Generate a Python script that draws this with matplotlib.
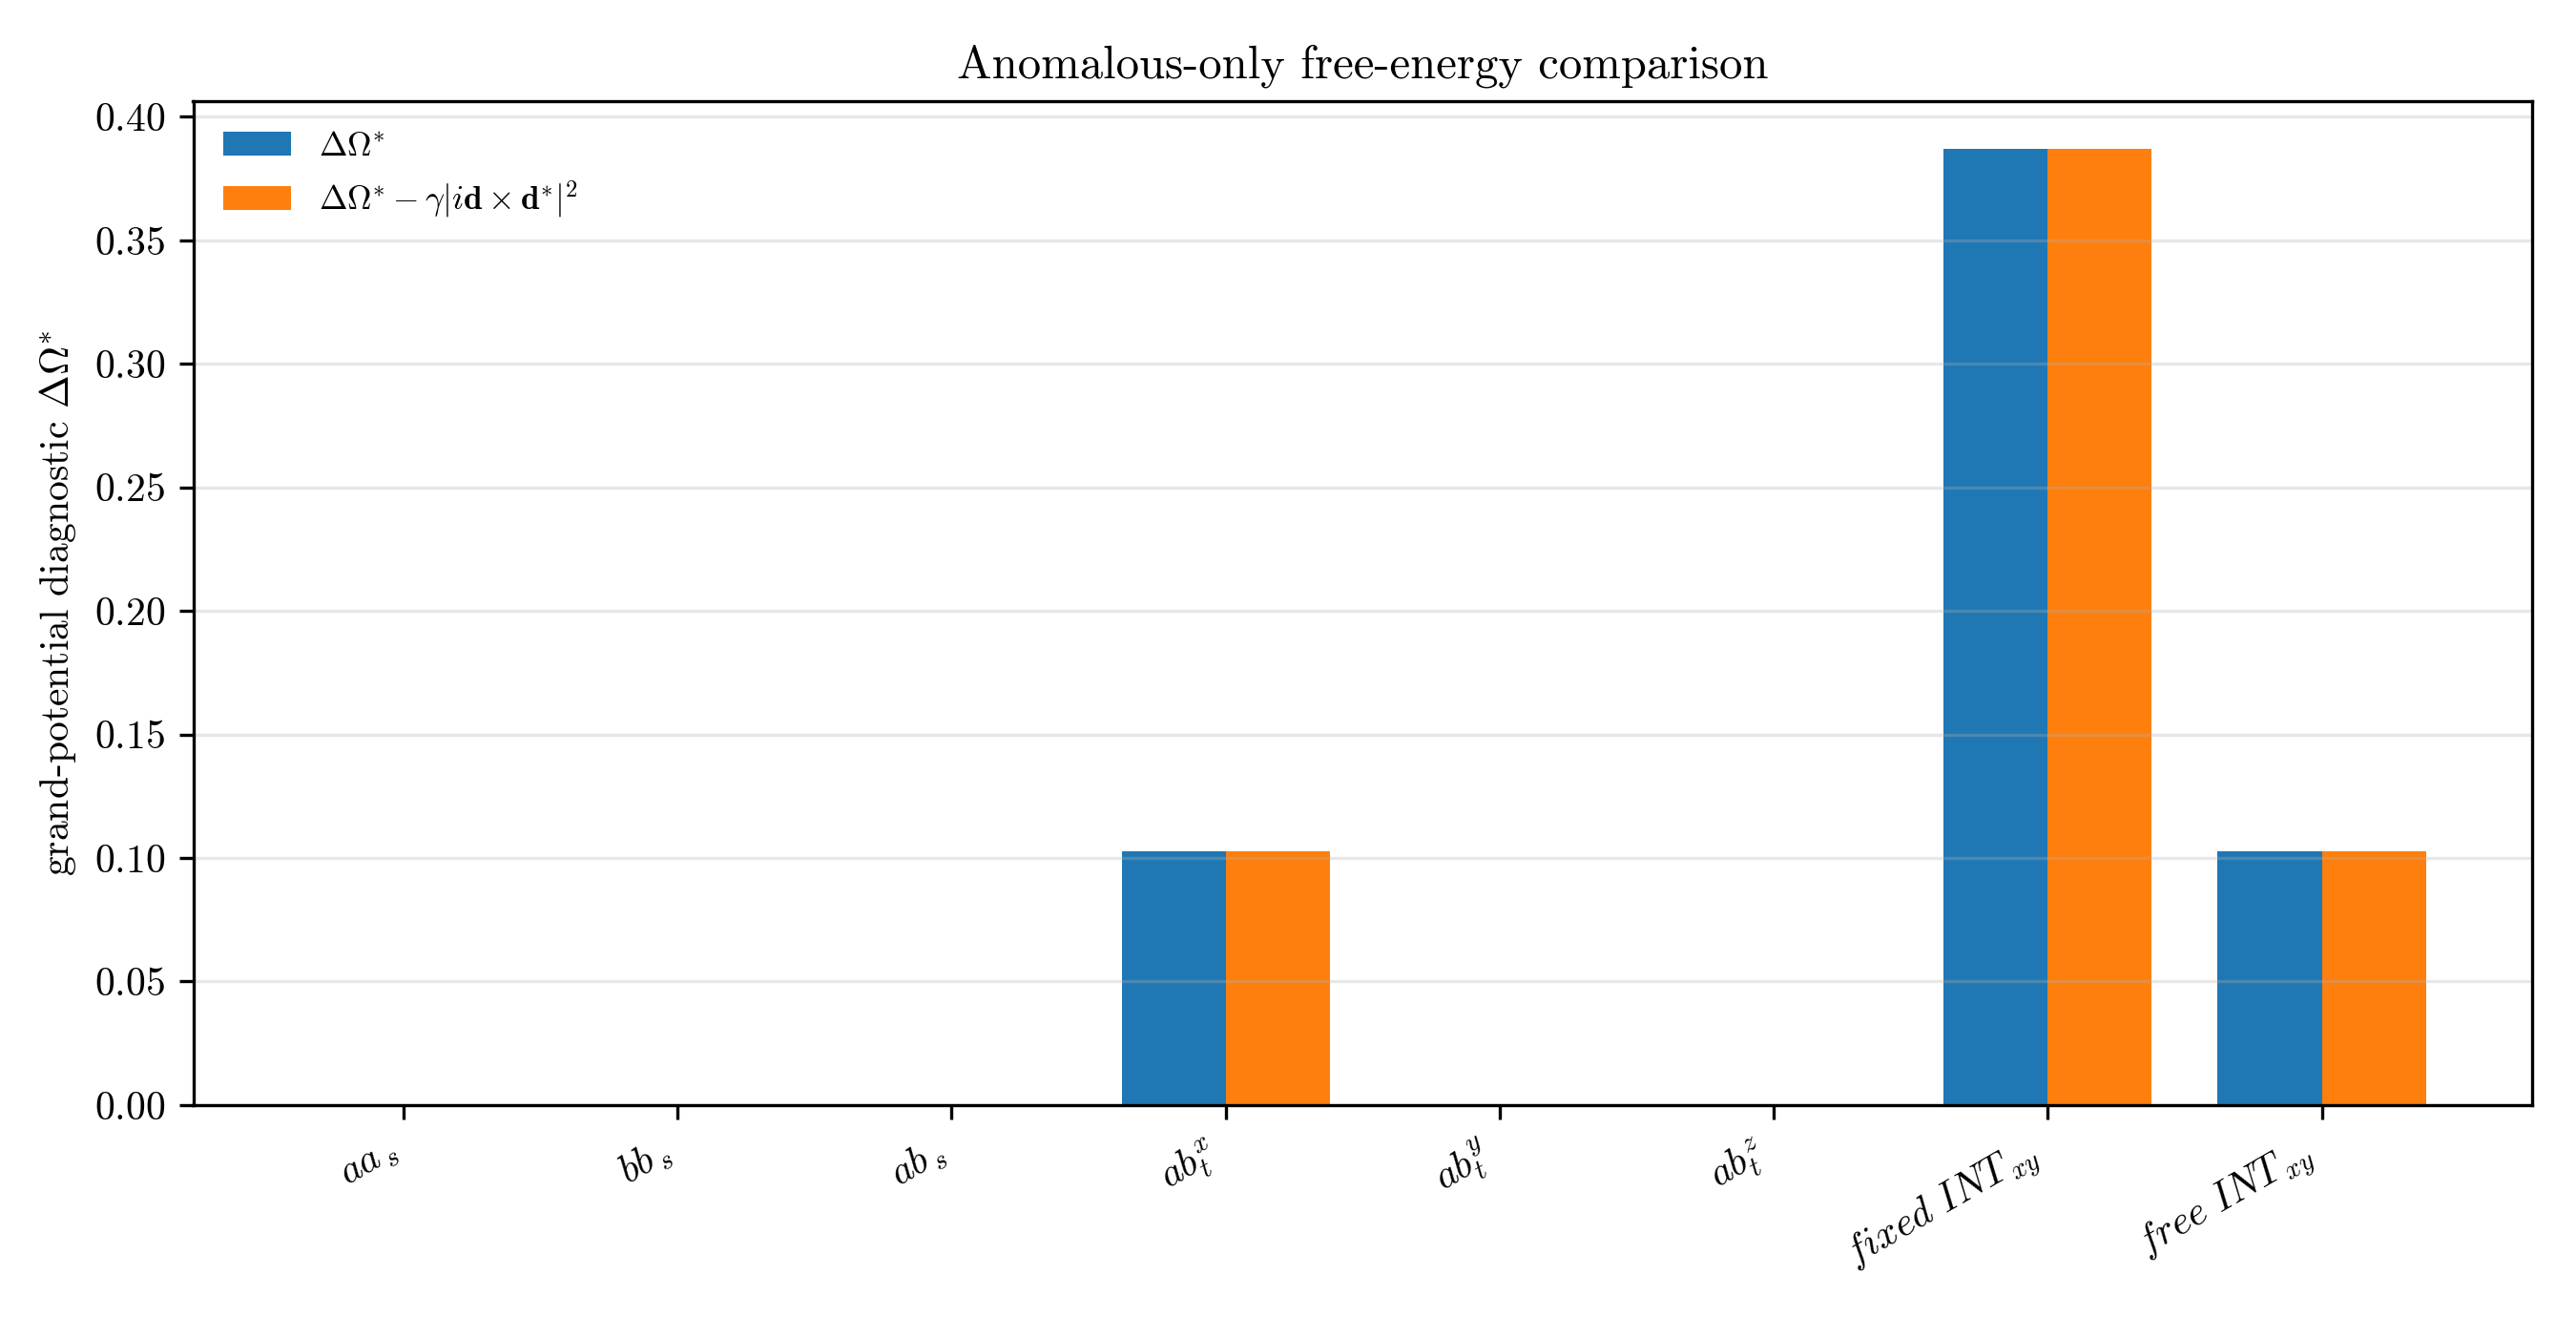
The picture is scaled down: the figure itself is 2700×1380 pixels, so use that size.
import numpy as np
import matplotlib
matplotlib.use("Agg")
import matplotlib.pyplot as plt

plt.rcParams['font.family'] = 'serif'
plt.rcParams['font.serif'] = ['cmr10']
plt.rcParams['mathtext.fontset'] = 'cm'
plt.rcParams['axes.unicode_minus'] = False
plt.rcParams['axes.formatter.use_mathtext'] = True

labels = [r'$aa_{\,s}$', r'$bb_{\,s}$', r'$ab_{\,s}$', r'$ab_t^x$', r'$ab_t^y$',
          r'$ab_t^z$', r'$fixed\ INT_{\,xy}$', r'$free\ INT_{\,xy}$']
d_omega = [0.0, 0.0, 0.0, 0.1026, 0.0, 0.0, 0.3869, 0.1026]
d_omega_corr = [0.0, 0.0, 0.0, 0.1026, 0.0, 0.0, 0.3869, 0.1026]

x = np.arange(len(labels))
width = 0.38

fig, ax = plt.subplots(figsize=(9, 4.6), dpi=300)
ax.bar(x - width / 2, d_omega, width, color='#1f77b4', label=r'$\Delta\Omega^{*}$')
ax.bar(x + width / 2, d_omega_corr, width, color='#ff7f0e',
       label=r'$\Delta\Omega^{*} - \gamma|i\mathbf{d}\times\mathbf{d}^{*}|^2$')

ax.set_xticks(x)
ax.set_xticklabels(labels, rotation=30, ha='right', fontsize=10)
ax.tick_params(axis='y', labelsize=10)
ax.set_ylabel(r'grand-potential diagnostic $\Delta\Omega^{*}$', fontsize=10)
ax.set_title('Anomalous-only free-energy comparison', fontsize=11.7)
ax.grid(axis='y', alpha=0.3)
ax.legend(loc='upper left', frameon=False, fontsize=8.5)

fig.subplots_adjust(left=0.075, right=0.983, top=0.923, bottom=0.161)
fig.savefig('out.png', dpi=300)
